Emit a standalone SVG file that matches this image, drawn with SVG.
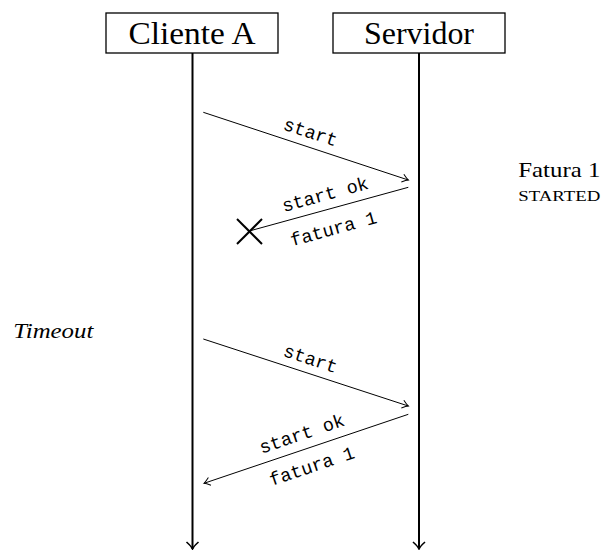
<svg xmlns="http://www.w3.org/2000/svg" width="603" height="550" viewBox="0 0 603 550">
  <style>
    .box { fill: #ffffff; stroke: #000000; stroke-width: 1.3; }
    .title { font-family: "Liberation Serif", "DejaVu Serif", serif; font-size: 31px; fill: #000; text-anchor: middle; }
    .life { fill: none; stroke: #000; stroke-width: 2; marker-end: url(#lifeHead); }
    .msg { fill: none; stroke: #000; stroke-width: 1; }
    .msg.arrow { marker-end: url(#toHead); }
    .lbl { font-family: "Liberation Mono", "DejaVu Sans Mono", monospace; font-size: 18.5px; fill: #000; text-anchor: middle; }
    .note { font-family: "Liberation Serif", "DejaVu Serif", serif; fill: #000; }
    .cross { stroke: #000; stroke-width: 2; }
  </style>
  <defs>
    <marker id="toHead" markerUnits="userSpaceOnUse" viewBox="-8 -6 10 12" refX="0" refY="0" markerWidth="10" markerHeight="12" orient="auto" overflow="visible">
      <path d="M -6 -4 Q -2 -0.8 0 0 Q -2 0.8 -6 4" fill="none" stroke="#000" stroke-width="1"/>
    </marker>
    <marker id="lifeHead" markerUnits="userSpaceOnUse" viewBox="-9 -8 11 16" refX="0" refY="0" markerWidth="11" markerHeight="16" orient="auto" overflow="visible">
      <path d="M -7 -6 Q -2.5 -1 0 0 Q -2.5 1 -7 6" fill="none" stroke="#000" stroke-width="1.6"/>
    </marker>
  </defs>

  <!-- participants -->
  <g id="cliente">
    <rect class="box" x="106" y="13" width="172" height="40"/>
    <text class="title" x="192" y="44" textLength="127" lengthAdjust="spacingAndGlyphs">Cliente A</text>
  </g>
  <g id="servidor">
    <rect class="box" x="333" y="13" width="172" height="40"/>
    <text class="title" x="419" y="44" textLength="110" lengthAdjust="spacingAndGlyphs">Servidor</text>
  </g>

  <!-- lifelines and messages -->
  <g id="connectors">
    <line class="life" x1="192.5" y1="53" x2="192.5" y2="549"/>
    <line class="life" x1="419" y1="53" x2="419" y2="549"/>

    <line class="msg arrow" x1="203.3" y1="112.3" x2="408.3" y2="180"/>
    <line class="msg" x1="408.3" y1="187.3" x2="249.3" y2="231"/>

    <line class="msg arrow" x1="203.3" y1="339" x2="408.3" y2="406"/>
    <line class="msg arrow" x1="408.3" y1="414.3" x2="204" y2="483.3"/>
  </g>

  <!-- lost reply -->
  <g id="lost">
    <line class="cross" x1="237" y1="219" x2="262" y2="244"/>
    <line class="cross" x1="237" y1="244" x2="262" y2="219"/>
  </g>

  <!-- message labels -->
  <g id="labels">
    <text class="lbl" transform="translate(310.7,131.7) rotate(18.3)" x="0" y="6.5">start</text>
    <text class="lbl" transform="translate(325,194) rotate(-15.4)" x="0" y="6.5">start ok</text>
    <text class="lbl" transform="translate(333.3,228.3) rotate(-15.4)" x="0" y="6.5">fatura 1</text>

    <text class="lbl" transform="translate(310.7,358.3) rotate(18.1)" x="0" y="6.5">start</text>
    <text class="lbl" transform="translate(301.7,433.3) rotate(-18.7)" x="0" y="6.5">start ok</text>
    <text class="lbl" transform="translate(311.7,465.7) rotate(-18.7)" x="0" y="6.5">fatura 1</text>
  </g>

  <!-- side notes -->
  <g id="notes">
    <text class="note" x="518.3" y="176.7" font-size="21.5" textLength="82" lengthAdjust="spacingAndGlyphs">Fatura 1</text>
    <text class="note" x="518.3" y="200.7" font-size="14" textLength="82" lengthAdjust="spacingAndGlyphs">STARTED</text>
    <text class="note" x="13.3" y="338.3" font-size="21.5" font-style="italic" textLength="80" lengthAdjust="spacingAndGlyphs">Timeout</text>
  </g>
</svg>
